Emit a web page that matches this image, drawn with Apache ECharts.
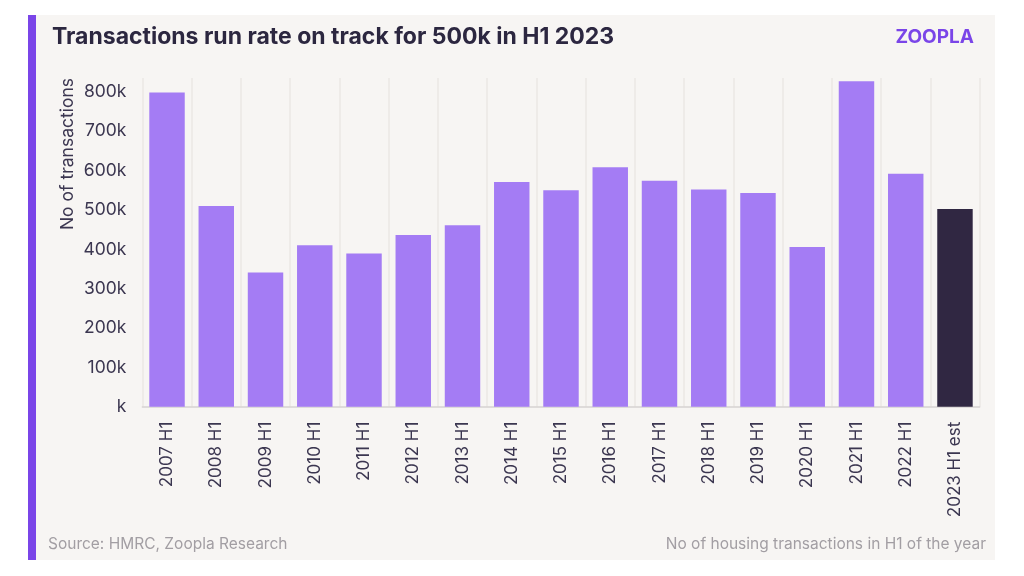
<!DOCTYPE html>
<html>
<head>
<meta charset="utf-8">
<script src="https://cdn.jsdelivr.net/npm/echarts@6/dist/echarts.min.js"></script>
<style>
html,body{margin:0;padding:0;background:#ffffff;}
#c{width:1024px;height:576px;}
</style>
</head>
<body>
<div id="c"></div>
<script>
const categories = ['2007 H1','2008 H1','2009 H1','2010 H1','2011 H1','2012 H1','2013 H1','2014 H1','2015 H1','2016 H1','2017 H1','2018 H1','2019 H1','2020 H1','2021 H1','2022 H1','2023 H1 est'];
const transactions = [798000,510000,341000,410000,389000,436000,461000,571000,550000,608000,574000,552000,543000,406000,827000,592000,502000];
const estimateIndex = 16;

const chart = echarts.init(document.getElementById('c'), null, {renderer:'canvas'});
const fontFam = 'Inter, "Noto Sans", sans-serif';
chart.setOption({
  backgroundColor: '#ffffff',
  animation: false,
  graphic: [
    {type:'rect', shape:{x:28,y:15,width:967,height:545}, style:{fill:'#f7f5f3'}, z:-10},
    {type:'rect', shape:{x:28,y:15,width:8,height:545}, style:{fill:'#7a45e8'}, z:-9},
    {type:'text', left:52, top:26, style:{text:'Transactions run rate on track for 500k in H1 2023', font:'700 23px '+fontFam, fill:'#2c2740'}},
    {type:'text', right:50, top:28, style:{text:'ZOOPLA', font:'700 19px '+fontFam, fill:'#7a45e8'}},
    {type:'text', left:48, top:536, style:{text:'Source: HMRC, Zoopla Research', font:'400 15.5px '+fontFam, fill:'#a29ea3'}},
    {type:'text', right:38, top:536, style:{text:'No of housing transactions in H1 of the year', font:'400 15.5px '+fontFam, fill:'#a29ea3'}}
  ],
  grid: {left:142.4, right:44.4, top:78, bottom:169.3, containLabel:false},
  xAxis: {
    type:'category',
    data: categories,
    axisLine:{show:true, lineStyle:{color:'#d6d2d2', width:1.5}},
    axisTick:{show:false},
    splitLine:{show:true, lineStyle:{color:'#ebe7e5', width:1.5}},
    axisLabel:{rotate:90, margin:15, color:'#3b3650', fontSize:17, fontFamily:fontFam}
  },
  yAxis: {
    type:'value',
    min:0, max:835000, interval:100000,
    name:'No of transactions',
    nameLocation:'end',
    nameRotate:90,
    nameGap:0,
    nameTextStyle:{color:'#3b3650', fontSize:17.5, fontFamily:fontFam, align:'right', verticalAlign:'bottom', padding:[0,0,66,0]},
    axisLine:{show:false},
    axisTick:{show:false},
    splitLine:{show:false},
    axisLabel:{
      margin:16, color:'#3b3650', fontSize:17.5, fontFamily:fontFam,
      formatter: v => (v % 100000 === 0) ? (v === 0 ? 'k' : (v/1000) + 'k') : ''
    }
  },
  series: [{
    type:'bar',
    barWidth:'72%',
    data: transactions.map((v,i)=>({value:v, itemStyle:{color: i===estimateIndex ? '#302742' : '#a47cf4'}}))
  }]
});
</script>
</body>
</html>
